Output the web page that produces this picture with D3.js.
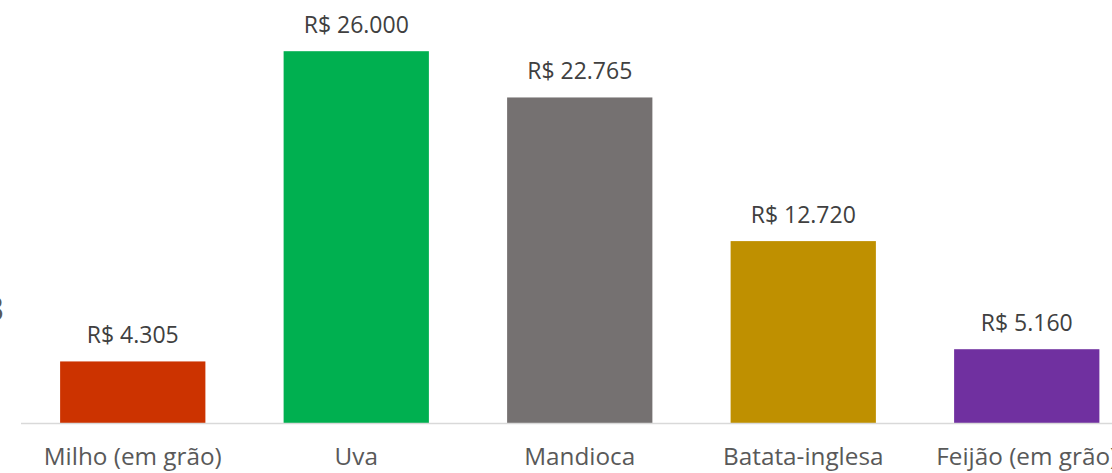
<!DOCTYPE html>
<html>
<head>
<meta charset="utf-8">
<script src="https://cdn.jsdelivr.net/npm/d3@7"></script>
<style>
  html, body { margin: 0; padding: 0; background: #fff; overflow: hidden; }
  svg { display: block; font-family: 'Open Sans', sans-serif; }
</style>
</head>
<body>
<svg id="chart" width="1112" height="473"></svg>
<script>
const categories = ['Milho (em grão)', 'Uva', 'Mandioca', 'Batata-inglesa', 'Feijão (em grão)'];
const values = [4305, 26000, 22765, 12720, 5160];
const barColors = ['#cc3300', '#00b050', '#757171', '#bf9000', '#7030a0'];

const svg = d3.select('#chart');

const BASE_Y = 423;
const X_LEFT = 21;
const STEP = 223.5;

const X_SCALE = d3.scaleBand()
  .domain(categories)
  .range([X_LEFT, X_LEFT + STEP * categories.length])
  .paddingInner(0.35)
  .paddingOuter(0.175);

const Y_SCALE = d3.scaleLinear()
  .domain([0, 30000])
  .range([BASE_Y, -6]);

const fmt = d => 'R$ ' + d3.format(',')(d).replace(/,/g, '.');

// cut-off axis title at left edge
svg.append('text')
  .text('3')
  .attr('x', 4)
  .attr('y', 321)
  .attr('text-anchor', 'end')
  .attr('fill', '#595959')
  .style('font-size', '32px');

svg.selectAll('rect.bar')
  .data(values)
  .join('rect')
  .attr('class', 'bar')
  .attr('x', (d, i) => X_SCALE(categories[i]))
  .attr('y', d => Y_SCALE(d))
  .attr('width', X_SCALE.bandwidth())
  .attr('height', d => BASE_Y - Y_SCALE(d))
  .attr('fill', (d, i) => barColors[i]);

const axis = svg.append('g')
  .attr('transform', `translate(0,${BASE_Y + 0.5})`)
  .call(d3.axisBottom(X_SCALE).tickSize(0).tickPadding(0));

axis.select('.domain')
  .attr('d', `M${X_LEFT},0H1112`)
  .attr('stroke', '#d9d9d9')
  .attr('stroke-width', 1.5);

axis.selectAll('.tick text')
  .attr('y', 41)
  .attr('dy', null)
  .attr('fill', '#595959')
  .style('font-family', "'Open Sans', sans-serif")
  .style('font-size', '24.3px');

svg.selectAll('text.val')
  .data(values)
  .join('text')
  .attr('class', 'val')
  .text(d => fmt(d))
  .attr('x', (d, i) => X_SCALE(categories[i]) + X_SCALE.bandwidth() / 2)
  .attr('y', d => Y_SCALE(d) - 18)
  .attr('text-anchor', 'middle')
  .attr('fill', '#404040')
  .style('font-size', '23px');
</script>
</body>
</html>
